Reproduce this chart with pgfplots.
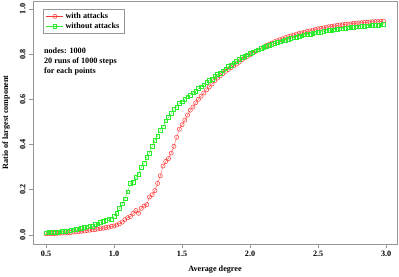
\documentclass[border=0pt]{standalone}
\usepackage{fontspec}
\setmainfont{Liberation Serif}
\usepackage{pgfplots}
\pgfplotsset{compat=1.18}
\usepackage{pgfplotstable}
\definecolor{cred}{RGB}{255,55,55}
\definecolor{cgreen}{RGB}{45,235,45}
\definecolor{cbox}{RGB}{150,150,150}
\pgfplotstableread{
x y
0.50 0.005
0.52 0.005
0.54 0.006
0.56 0.006
0.58 0.007
0.60 0.008
0.62 0.008
0.64 0.009
0.66 0.010
0.68 0.011
0.70 0.013
0.72 0.013
0.74 0.015
0.76 0.016
0.78 0.018
0.80 0.020
0.82 0.021
0.84 0.023
0.86 0.024
0.88 0.026
0.90 0.028
0.92 0.030
0.94 0.033
0.96 0.034
0.98 0.038
1.00 0.040
1.02 0.044
1.04 0.050
1.06 0.057
1.08 0.068
1.10 0.076
1.12 0.082
1.14 0.095
1.16 0.108
1.18 0.096
1.20 0.118
1.22 0.128
1.24 0.134
1.26 0.168
1.28 0.178
1.30 0.196
1.32 0.228
1.34 0.262
1.36 0.305
1.38 0.325
1.40 0.338
1.42 0.362
1.44 0.392
1.46 0.432
1.48 0.468
1.50 0.488
1.52 0.508
1.54 0.530
1.56 0.552
1.58 0.566
1.60 0.585
1.62 0.600
1.64 0.614
1.66 0.628
1.68 0.642
1.70 0.655
1.72 0.668
1.74 0.682
1.76 0.694
1.78 0.704
1.80 0.714
1.82 0.724
1.84 0.732
1.86 0.740
1.88 0.748
1.90 0.756
1.92 0.765
1.94 0.775
1.96 0.783
1.98 0.790
2.00 0.797
2.02 0.805
2.04 0.812
2.06 0.818
2.08 0.825
2.10 0.832
2.12 0.838
2.14 0.843
2.16 0.849
2.18 0.855
2.20 0.859
2.22 0.864
2.24 0.868
2.26 0.873
2.28 0.877
2.30 0.880
2.32 0.884
2.34 0.888
2.36 0.891
2.38 0.894
2.40 0.897
2.42 0.900
2.44 0.903
2.46 0.906
2.48 0.909
2.50 0.912
2.52 0.914
2.54 0.916
2.56 0.919
2.58 0.921
2.60 0.923
2.62 0.925
2.64 0.927
2.66 0.929
2.68 0.930
2.70 0.932
2.72 0.933
2.74 0.934
2.76 0.936
2.78 0.937
2.80 0.938
2.82 0.939
2.84 0.940
2.86 0.941
2.88 0.942
2.90 0.943
2.92 0.944
2.94 0.944
2.96 0.945
2.98 0.946
}\withattacks
\pgfplotstableread{
x y
0.50 0.010
0.52 0.011
0.54 0.011
0.56 0.013
0.58 0.013
0.60 0.015
0.62 0.016
0.64 0.017
0.66 0.019
0.68 0.021
0.70 0.023
0.72 0.026
0.74 0.027
0.76 0.031
0.78 0.033
0.80 0.036
0.82 0.040
0.84 0.038
0.86 0.047
0.88 0.050
0.90 0.057
0.92 0.062
0.94 0.066
0.96 0.072
0.98 0.070
1.00 0.082
1.02 0.097
1.04 0.118
1.06 0.138
1.08 0.160
1.10 0.192
1.12 0.228
1.14 0.232
1.16 0.255
1.18 0.268
1.20 0.300
1.22 0.318
1.24 0.345
1.26 0.362
1.28 0.392
1.30 0.418
1.32 0.438
1.34 0.462
1.36 0.478
1.38 0.505
1.40 0.520
1.42 0.538
1.44 0.555
1.46 0.566
1.48 0.582
1.50 0.590
1.52 0.600
1.54 0.612
1.56 0.618
1.58 0.630
1.60 0.636
1.62 0.648
1.64 0.655
1.66 0.664
1.68 0.676
1.70 0.685
1.72 0.690
1.74 0.702
1.76 0.710
1.78 0.716
1.80 0.726
1.82 0.735
1.84 0.746
1.86 0.752
1.88 0.762
1.90 0.768
1.92 0.778
1.94 0.786
1.96 0.792
1.98 0.798
2.00 0.805
2.02 0.808
2.04 0.815
2.06 0.820
2.08 0.826
2.10 0.830
2.12 0.834
2.14 0.840
2.16 0.843
2.18 0.848
2.20 0.852
2.22 0.855
2.24 0.860
2.26 0.862
2.28 0.866
2.30 0.870
2.32 0.873
2.34 0.876
2.36 0.879
2.38 0.882
2.40 0.885
2.42 0.887
2.44 0.889
2.46 0.892
2.48 0.894
2.50 0.897
2.52 0.898
2.54 0.901
2.56 0.903
2.58 0.905
2.60 0.907
2.62 0.908
2.64 0.910
2.66 0.912
2.68 0.913
2.70 0.915
2.72 0.916
2.74 0.918
2.76 0.919
2.78 0.921
2.80 0.922
2.82 0.923
2.84 0.924
2.86 0.925
2.88 0.926
2.90 0.927
2.92 0.928
2.94 0.929
2.96 0.930
2.98 0.931
}\withoutattacks
\begin{document}
\begin{tikzpicture}
\begin{axis}[
  scale only axis,
  width=364bp, height=243bp,
  at={(0,0)}, anchor=south west,
  xmin=0.404, xmax=3.08,
  ymin=-0.04, ymax=1.035,
  axis line style={cbox, line width=0.6bp},
  xtick={0.5,1,1.5,2,2.5,3},
  ytick={0,0.2,0.4,0.6,0.8,1},
  xticklabels={0.5,1.0,1.5,2.0,2.5,3.0},
  yticklabels={0.0,0.2,0.4,0.6,0.8,1.0},
  tick align=outside,
  major tick length=4bp,
  every tick/.style={cbox, line width=0.6bp},
  xtick pos=bottom, ytick pos=left,
  tick label style={font=\bfseries\fontsize{8.2}{9}\selectfont, black},
  yticklabel style={rotate=90, anchor=south},
  /pgf/number format/assume math mode=true,
  every axis x label/.style={at={(axis description cs:0.5,-0.107)}, anchor=center, font=\bfseries\fontsize{8.2}{9}\selectfont},
  every axis y label/.style={at={(axis description cs:-0.074,0.5)}, anchor=center, rotate=90, font=\bfseries\fontsize{8.2}{9}\selectfont},
  xlabel={Average degree},
  ylabel={Ratio of largest component},
  legend style={at={(axis description cs:0.0275,0.967)}, anchor=north west,
    draw=cbox, line width=0.5bp, font=\bfseries\fontsize{8.2}{9}\selectfont,
    inner xsep=3bp, inner ysep=1.5bp, row sep=-1.5bp},
  legend cell align=left,
  clip=false,
]
\addplot[cred, line width=0.3bp, mark=o, mark size=2.1bp, mark options={line width=0.5bp}] table {\withattacks};
\addlegendentry{with attacks}
\addplot[cgreen, line width=0.3bp, mark=square, mark size=1.8bp, mark options={line width=0.45bp}] table {\withoutattacks};
\addlegendentry{without attacks}
\node[anchor=north west, align=left, font=\bfseries\fontsize{8.2}{10.5}\selectfont, inner sep=0pt]
  at (axis description cs:0.030,0.81) {nodes: 1000\\20 runs of 1000 steps\\for each points};
\end{axis}
\pgfresetboundingbox
\path[use as bounding box] (-33bp,-33bp) rectangle (366bp,244bp);
\end{tikzpicture}
\end{document}
